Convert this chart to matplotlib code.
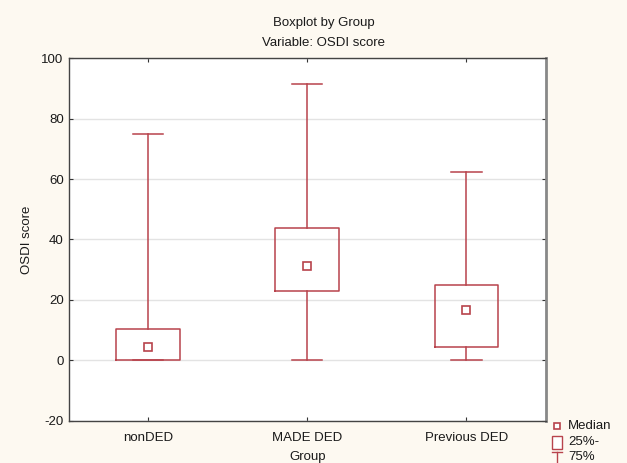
import matplotlib
matplotlib.use("Agg")
import matplotlib.pyplot as plt
from matplotlib.lines import Line2D
from matplotlib.patches import Rectangle

plt.rcParams['font.family'] = ['Liberation Sans', 'DejaVu Sans']
plt.rcParams['axes.unicode_minus'] = False

groups = ["nonDED", "MADE DED", "Previous DED"]
medians = [4.2, 31.2, 16.7]
q1 = [0.0, 23.0, 4.2]
q3 = [10.4, 43.8, 25.0]
whislo = [0.0, 0.0, 0.0]
whishi = [75.0, 91.7, 62.5]
yticks = [-20, 0, 20, 40, 60, 80, 100]

red = '#b8434c'
fig = plt.figure(figsize=(6.27, 4.63), dpi=100, facecolor='#fdf9f1')
ax = fig.add_axes([68.5/627, 1-420.5/463, (546-68.5)/627, (420.5-58.5)/463])
ax.set_facecolor('white')

stats = []
for g, m, a, b, lo, hi in zip(groups, medians, q1, q3, whislo, whishi):
    stats.append(dict(label=g, med=m, q1=a, q3=b, whislo=lo, whishi=hi, fliers=[]))
pos = list(range(1, len(groups) + 1))
ax.bxp(stats, positions=pos, widths=0.40, showcaps=True, patch_artist=False,
       boxprops=dict(color=red, linewidth=1.1),
       whiskerprops=dict(color=red, linewidth=1.1),
       capprops=dict(color=red, linewidth=1.1),
       medianprops=dict(linewidth=0), capwidths=0.19, zorder=3)
ax.plot(pos, medians, linestyle='none', marker='s', markersize=5.5,
        markerfacecolor='white', markeredgecolor=red, markeredgewidth=1.2, zorder=4)

ax.set_xlim(0.5, 3.5)
ax.set_ylim(-20, 100)
ax.set_yticks(yticks)
ax.set_xticks(pos)
ax.set_xticklabels(groups)
ax.grid(axis='y', color='#e3e3e3', linewidth=1.0, zorder=0)
ax.set_axisbelow(True)
ax.tick_params(axis='both', direction='in', length=3, labelsize=9.5, colors='#333333',
               labelcolor='#1a1a1a', top=True, right=True)
ax.tick_params(axis='x', pad=8)
for s in ['left', 'top', 'bottom']:
    ax.spines[s].set_color('#444444')
    ax.spines[s].set_linewidth(1.0)
ax.spines['right'].set_color('#888888')
ax.spines['right'].set_linewidth(2.0)

fig.text(27/627, 1-240/463, 'OSDI score', ha='center', va='center', rotation=90,
         fontsize=9.5, color='#1a1a1a')
fig.text((68.5+546)/2/627, 1-457/463, 'Group', ha='center', va='center', fontsize=9.5, color='#1a1a1a')
fig.text(324/627, 1-23/463, 'Boxplot by Group', ha='center', va='center', fontsize=9.5, color='#1a1a1a')
fig.text(324/627, 1-43/463, 'Variable: OSDI score', ha='center', va='center', fontsize=9.5, color='#1a1a1a')

# legend
fig.add_artist(Line2D([557/627], [1-426/463], marker='s', markersize=4.5, markerfacecolor='white',
                      markeredgecolor=red, markeredgewidth=1.2, linestyle='none',
                      transform=fig.transFigure))
fig.text(568/627, 1-426/463, 'Median', ha='left', va='center', fontsize=9.5, color='#1a1a1a')
fig.add_artist(Rectangle((552/627, 1-449/463), 10/627, 13/463, transform=fig.transFigure,
                         facecolor='white', edgecolor=red, linewidth=1.0))
fig.text(568/627, 1-442/463, '25%-', ha='left', va='center', fontsize=9.5, color='#1a1a1a')
fig.add_artist(Line2D([552/627, 562/627], [1-452/463, 1-452/463], color=red, linewidth=1.0,
                      transform=fig.transFigure))
fig.add_artist(Line2D([557/627, 557/627], [1-452/463, 1-463/463], color=red, linewidth=1.0,
                      transform=fig.transFigure))
fig.text(568/627, 1-457/463, '75%', ha='left', va='center', fontsize=9.5, color='#1a1a1a')

fig.savefig('out.png', dpi=100, facecolor=fig.get_facecolor())
